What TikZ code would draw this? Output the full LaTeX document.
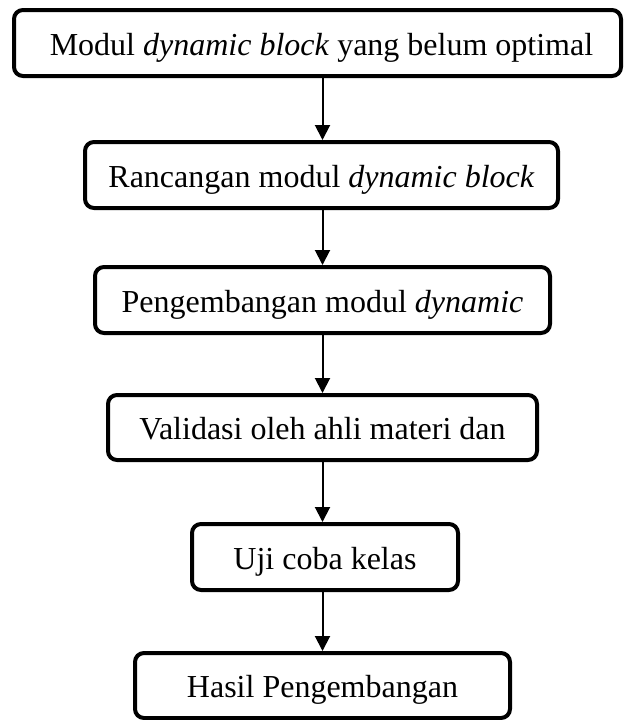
\documentclass[tikz,border=0pt]{standalone}
\usepackage{fontspec}
\setmainfont{Liberation Serif}
\usetikzlibrary{arrows.meta}
\tikzset{
  stepbox/.style={draw=black, line width=4pt, rounded corners=9pt, fill=white,
    inner sep=0pt, text height=26pt, text depth=2pt,
    font=\fontsize{32}{38}\selectfont, anchor=center},
  flowarrow/.style={draw=black, line width=2pt, -{Triangle[width=15pt,length=15pt]}}
}
\begin{document}
\begin{tikzpicture}[x=1pt, y=-1pt]
\useasboundingbox (0,0) rectangle (624,720);

\node[stepbox, minimum width=607pt, minimum height=66pt] (b1) at (317.5,43)
  {\hspace*{8pt}Modul \textit{dynamic block} yang belum optimal};
\node[stepbox, minimum width=473pt, minimum height=66pt] (b2) at (321.5,175)
  {Rancangan modul \textit{dynamic block}};
\node[stepbox, minimum width=455pt, minimum height=66pt] (b3) at (322.5,300)
  {Pengembangan modul \textit{dynamic}};
\node[stepbox, minimum width=429pt, minimum height=65pt] (b4) at (322.5,427.5)
  {Validasi oleh ahli materi dan};
\node[stepbox, minimum width=266pt, minimum height=66pt] (b5) at (325,557)
  {Uji coba kelas};
\node[stepbox, minimum width=375pt, minimum height=65pt] (b6) at (322.5,685.5)
  {Hasil Pengembangan};

\draw[flowarrow] (b1.south -| b3) -- (b2.north -| b3);
\draw[flowarrow] (b2.south -| b3) -- (b3.north);
\draw[flowarrow] (b3.south) -- (b4.north -| b3);
\draw[flowarrow] (b4.south -| b3) -- (b5.north -| b3);
\draw[flowarrow] (b5.south -| b3) -- (b6.north -| b3);
\end{tikzpicture}
\end{document}
